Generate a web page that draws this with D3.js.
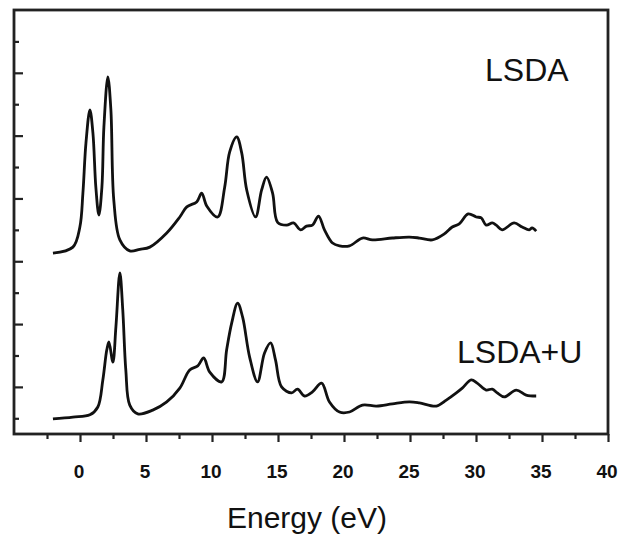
<!DOCTYPE html>
<meta charset="utf-8">
<style>
body { margin: 0; background: #fff; }
svg { display: block; }
.curve { fill: none; stroke: #111; stroke-width: 2.8; stroke-linejoin: round; }
.frame { stroke: #222; stroke-width: 2.8; fill: none; }
.tick line { stroke: #222; stroke-width: 2.2; }
.xlab { font-family: "Liberation Sans Narrow", "Arial Narrow", sans-serif; font-weight: bold; font-size: 19px; fill: #111; }
.series-label { font-family: "Liberation Sans", Arial, sans-serif; font-size: 32px; fill: #111; }
.axis-title { font-family: "Liberation Sans", Arial, sans-serif; font-size: 30px; fill: #111; }
</style>
<svg width="619" height="536"></svg>
<script src="https://d3js.org/d3.v7.min.js"></script>
<script>

// energy (eV) and intensity (arb. units, offset curves)
var lsdaE = [-2.05, -0.54, -0.01, 0.22, 0.45, 0.75, 0.98, 1.20, 1.43, 1.66, 1.81, 2.11, 2.34, 2.56, 3.02, 3.77,
  4.53, 5.29, 6.57, 7.56, 8.09, 8.84, 9.22, 9.60, 10.43, 10.96, 11.34, 11.87, 12.25, 12.63, 13.30, 13.76, 14.13,
  14.59, 14.97, 15.65, 16.18, 16.71, 17.16, 17.61, 18.07, 18.52, 19.13, 19.66, 20.42, 21.40, 22.15, 23.67, 24.95,
  25.71, 26.69, 27.60, 28.20, 28.73, 29.41, 30.02, 30.40, 30.77, 31.23, 31.53, 31.98, 32.89, 33.50, 34.03, 34.25, 34.56];
var lsdaI = [5.26, 5.45, 6.09, 7.17, 8.76, 9.82, 9.08, 7.36, 6.47, 7.36, 9.27, 10.87, 9.82, 6.95, 5.68, 5.33,
  5.38, 5.45, 5.90, 6.41, 6.73, 6.89, 7.17, 6.76, 6.41, 7.36, 8.48, 8.96, 8.45, 7.27, 6.41, 7.27, 7.68,
  7.17, 6.24, 6.15, 6.22, 6.00, 6.12, 6.15, 6.44, 6.00, 5.58, 5.49, 5.49, 5.74, 5.68, 5.74, 5.77,
  5.74, 5.68, 5.87, 6.09, 6.19, 6.51, 6.41, 6.38, 6.15, 6.22, 6.15, 6.00, 6.22, 6.09, 6.00, 6.06, 5.96];

var lsdauE = [-2.05, -0.54, 0.75, 1.35, 1.73, 2.03, 2.19, 2.49, 2.72, 3.02, 3.24, 3.47, 3.77, 4.38, 5.51, 6.57,
  7.56, 8.31, 8.92, 9.37, 9.83, 10.73, 11.11, 11.49, 11.94, 12.32, 12.85, 13.45, 13.98, 14.44, 14.81, 15.27,
  16.03, 16.48, 17.01, 17.61, 18.30, 18.90, 19.66, 20.42, 21.40, 22.46, 23.67, 24.95, 25.71, 27.00, 27.75,
  28.51, 28.96, 29.64, 30.09, 30.77, 31.23, 31.61, 32.14, 33.05, 33.80, 34.56];
var lsdauI = [-0.02, 0.04, 0.11, 0.36, 1.22, 2.18, 2.43, 1.79, 2.91, 4.63, 3.45, 1.54, 0.42, 0.14, 0.26, 0.52,
  0.96, 1.54, 1.67, 1.92, 1.47, 1.16, 2.18, 3.03, 3.67, 3.22, 1.95, 1.16, 2.08, 2.40, 1.86, 1.00,
  0.81, 0.93, 0.71, 0.84, 1.12, 0.52, 0.20, 0.20, 0.42, 0.39, 0.46, 0.52, 0.49, 0.39, 0.58,
  0.81, 0.96, 1.22, 1.12, 0.90, 0.93, 0.81, 0.68, 0.90, 0.74, 0.71];

var seriesNames = ["LSDA", "LSDA+U"];
var xMajorTicks = [0, 5, 10, 15, 20, 25, 30, 35, 40];
var xMinorTicks = [-2.5, 2.5, 7.5, 12.5, 17.5, 22.5, 27.5, 32.5, 37.5];
var yMajorTicks = [1, 3, 5, 7, 9, 11];
var yMinorTicks = [0, 2, 4, 6, 8, 10, 12];

var svg = d3.select("svg"),
    box = {left: 14, right: 608, top: 10, bottom: 434};

var x = d3.scaleLinear().domain([-5, 40]).range([box.left, box.right]);
var y = d3.scaleLinear().domain([-0.5, 13]).range([box.bottom, box.top]);

// x axis: ticks hang below the frame
svg.append("g")
    .attr("transform", "translate(0," + box.bottom + ")")
    .call(d3.axisBottom(x).tickValues(xMinorTicks).tickSize(5).tickFormat(""))
    .call(function(g) { g.select(".domain").remove(); });

svg.append("g")
    .attr("transform", "translate(0," + box.bottom + ")")
    .call(d3.axisBottom(x).tickValues(xMajorTicks).tickSize(8).tickFormat(""))
    .call(function(g) { g.select(".domain").remove(); });

svg.append("g").selectAll("text")
    .data(xMajorTicks)
  .enter().append("text")
    .attr("class", "xlab")
    .attr("x", function(d) { return x(d) - 1; })
    .attr("y", 478)
    .attr("text-anchor", "middle")
    .text(function(d) { return d; });

// y axis: unlabeled ticks pointing inward
svg.append("g")
    .attr("transform", "translate(" + box.left + ",0)")
    .call(d3.axisRight(y).tickValues(yMinorTicks).tickSize(5).tickFormat(""))
    .call(function(g) { g.select(".domain").remove(); });

svg.append("g")
    .attr("transform", "translate(" + box.left + ",0)")
    .call(d3.axisRight(y).tickValues(yMajorTicks).tickSize(9).tickFormat(""))
    .call(function(g) { g.select(".domain").remove(); });

svg.append("rect")
    .attr("class", "frame")
    .attr("x", box.left).attr("y", box.top)
    .attr("width", box.right - box.left).attr("height", box.bottom - box.top);

var line = d3.line()
    .x(function(d) { return x(d[0]); })
    .y(function(d) { return y(d[1]); })
    .curve(d3.curveCatmullRom.alpha(0.5));

svg.append("path")
    .attr("class", "curve")
    .attr("d", line(d3.zip(lsdaE, lsdaI)));

svg.append("path")
    .attr("class", "curve")
    .attr("d", line(d3.zip(lsdauE, lsdauI)));

svg.append("text")
    .attr("class", "series-label")
    .attr("x", 485).attr("y", 81)
    .text(seriesNames[0]);

svg.append("text")
    .attr("class", "series-label")
    .attr("x", 457).attr("y", 363)
    .text(seriesNames[1]);

svg.append("text")
    .attr("class", "axis-title")
    .attr("x", 307).attr("y", 528)
    .attr("text-anchor", "middle")
    .text("Energy (eV)");

</script>
